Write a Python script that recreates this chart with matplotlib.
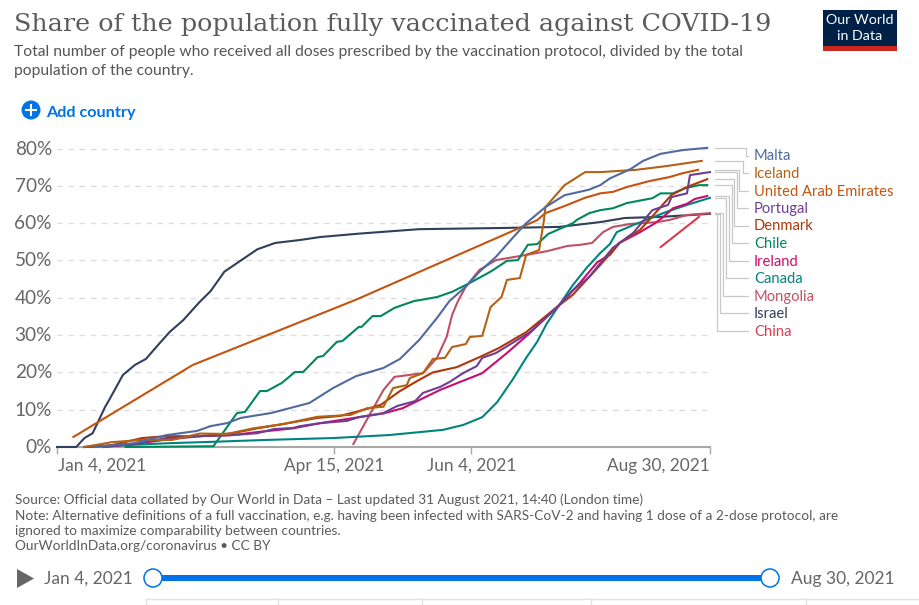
import matplotlib
matplotlib.use("Agg")
import matplotlib.pyplot as plt
from matplotlib.patches import Rectangle, Circle, Polygon

W, H = 920, 605
plt.rcParams['font.family'] = ['Lato', 'DejaVu Sans']

# ---- data: (days since Jan 4 2021, percent) ----
malta_d = [14, 28, 40, 51, 56, 62, 67, 78, 92, 100.6, 109, 119, 125, 132, 138.5, 143, 149, 154, 160, 166, 171, 178, 185, 194, 198, 201.5, 209, 213.6, 220, 228, 237]
malta_v = [0, 1, 3.2, 4.3, 5.6, 6.4, 7.8, 9.1, 11.8, 15.8, 19, 21.2, 23.6, 28.7, 34.6, 39.1, 43, 47, 51, 56, 60, 64.3, 67.5, 69, 70.2, 72, 74.5, 76.7, 78.6, 79.6, 80.2]
iceland_d = [10, 20, 31, 42, 52, 62, 71.5, 82, 95, 107, 113, 119, 122.5, 127.5, 128.6, 133.4, 137, 141.4, 144, 149, 150.5, 155, 158, 162, 164, 168.7, 171, 175.7, 177.5, 178, 185, 192.5, 198, 211, 222, 235]
iceland_v = [0, 1.3, 1.9, 1.9, 3.6, 3.5, 5, 6.1, 8.1, 8.6, 10.4, 10.8, 15.8, 16.6, 18.5, 19.8, 23.6, 23.9, 26.8, 27.6, 29.5, 29.8, 37.5, 40.2, 44.8, 45.3, 51.5, 52.8, 60.9, 64.3, 70.2, 73.7, 73.7, 74.3, 75.3, 76.7]
uae_d = [6, 49.5, 109, 175, 178, 185, 192.4, 198, 202.6, 207.7, 216, 223.4, 228, 233.6]
uae_v = [2.7, 22, 39.5, 60.8, 62.7, 64.6, 66.8, 68, 68.4, 69.7, 71.3, 72.4, 73.4, 74.3]
portugal_d = [17, 28, 40, 52, 64, 73, 79, 86, 88.6, 96, 105.7, 110, 119, 124, 130.5, 133.4, 139.6, 143, 148, 153, 155, 160, 166, 172.4, 183, 188, 194, 198, 202.6, 210, 217, 222.7, 224, 229.6, 230.7, 238]
portugal_v = [0, 0.8, 2.4, 2.9, 3.2, 3.7, 4.8, 5.1, 5.6, 6.4, 7, 8, 9.1, 11, 12.3, 14.5, 16.1, 17.4, 19.8, 21.7, 23.9, 25.2, 27.9, 30.8, 38, 42, 45.6, 49.3, 53.4, 57.4, 63.5, 64.9, 67, 68, 72.9, 73.7]
denmark_d = [10, 20, 31, 40, 52, 64, 73, 82, 95, 103, 113, 118, 125, 132, 137, 145.7, 154, 161, 171, 183, 188, 194, 198, 205, 212.5, 219, 224, 229.6, 237]
denmark_v = [0, 0.5, 2.4, 2.9, 2.9, 3.7, 5, 6.1, 7.8, 8.3, 10.2, 11.3, 15, 18, 20, 21.4, 24.1, 26.5, 30.8, 38, 40.8, 45.6, 48.8, 54.7, 58.2, 63.5, 67.6, 69.7, 71.8]
chile_d = [25, 57, 65.6, 68.5, 74, 76.5, 82, 86.7, 89.7, 95, 97, 102, 104, 110, 111, 115, 118, 123, 130, 138.5, 144, 150.5, 158, 164, 168, 171.6, 175, 179, 188, 189.5, 194, 198, 202.6, 207.7, 217, 220, 224.5, 229, 234, 237]
chile_v = [0, 0.2, 9.1, 9.4, 15, 15, 17.2, 20.1, 20.1, 24.1, 24.4, 28.2, 28.4, 32.2, 32.2, 35.1, 35.1, 37.3, 39.1, 40.2, 41.6, 44, 47, 49.9, 50.1, 54.2, 54.4, 57.1, 60, 60.9, 62.7, 63.5, 64, 65.4, 66.7, 68, 68, 69.4, 70.2, 70.2]
ireland_d = [17, 30, 40, 52, 64, 73, 86, 96, 103, 119, 126, 139.6, 155, 164, 172.4, 183, 190.6, 197, 201.5, 205, 212.5, 218, 221, 224.5, 229.6, 232.5, 237]
ireland_v = [0, 1, 2, 2.9, 3.2, 4, 5, 6.4, 7.2, 9, 10.4, 15.3, 19.8, 25.2, 30.6, 38, 44, 49.6, 51.5, 54.7, 57.6, 60, 61.7, 64, 65.2, 66.5, 67.3]
canada_d = [10, 40, 57, 76.5, 100.6, 121, 140.7, 148, 155, 160.4, 166, 171, 175, 178.6, 183, 188, 193, 198, 201.5, 204, 210, 222, 229.6, 238]
canada_v = [0, 1, 1.4, 1.9, 2.4, 3.2, 4.6, 5.9, 8, 12, 18, 23.9, 28.2, 33.2, 38, 43.4, 48, 52, 54.4, 57.6, 59.5, 63, 64.9, 66.8]
mongolia_d = [108, 119, 123, 133.4, 138.5, 142, 144, 146, 149, 154, 160, 168.7, 178.6, 186, 190.6, 195, 199, 202.6, 209, 218.7, 223.4, 229.6, 238]
mongolia_v = [0.8, 15.3, 18.8, 19.8, 23.9, 29.5, 35.4, 38.9, 43, 47.5, 50.1, 51.2, 52.5, 53.9, 54.2, 54.7, 57.6, 59, 59.8, 60.3, 60.9, 62.2, 62.7]
israel_d = [0, 7, 10, 13, 17.5, 19, 24, 28.4, 32.4, 37.5, 41, 46, 52, 56, 61, 67, 73, 79.5, 88.6, 96, 110, 132, 161, 183, 198, 207, 220, 238]
israel_v = [0, 0, 2.4, 3.7, 10.7, 12.6, 19.3, 22, 23.6, 27.9, 30.8, 34, 38.9, 41.8, 47, 50, 53, 54.7, 55.5, 56.3, 57.2, 58.4, 58.7, 59, 60.3, 61.4, 61.7, 62.5]
china_d = [220, 234]
china_v = [53.6, 61.7]

countries = ['Malta', 'Iceland', 'United Arab Emirates', 'Portugal', 'Denmark', 'Chile',
             'Ireland', 'Canada', 'Mongolia', 'Israel', 'China']
day_series = [malta_d, iceland_d, uae_d, portugal_d, denmark_d, chile_d, ireland_d, canada_d, mongolia_d, israel_d, china_d]
val_series = [malta_v, iceland_v, uae_v, portugal_v, denmark_v, chile_v, ireland_v, canada_v, mongolia_v, israel_v, china_v]
colors = ['#4F6A9E', '#B16214', '#C4530F', '#6D3E91', '#B13507', '#00875E',
          '#C70E70', '#00847E', '#C15065', '#2F3F5C', '#D73C50']
xtick_days = [0, 101, 151, 238]
xtick_labels = ['Jan 4, 2021', 'Apr 15, 2021', 'Jun 4, 2021', 'Aug 30, 2021']
ytick_vals = [0, 10, 20, 30, 40, 50, 60, 70, 80]

GREY = '#666666'
fig = plt.figure(figsize=(W / 100, H / 100), dpi=100)
fig.patch.set_facecolor('white')

# main axes placed by pixel box
L, R, B, T = 57, 710, 447, 130
ax = fig.add_axes([L / W, 1 - B / H, (R - L) / W, (B - T) / H])
ax.set_xlim(0, 238)
ax.set_ylim(0, (B - T) / 3.73)
for s in ax.spines.values():
    s.set_visible(False)
ax.patch.set_alpha(0)
for y in ytick_vals[1:]:
    ax.axhline(y, color='#dddddd', lw=1, dashes=(4, 4), zorder=1)
ax.spines['bottom'].set_visible(True)
ax.spines['bottom'].set_color('#a8a8a8')
ax.spines['bottom'].set_linewidth(1.5)
ax.set_xticks(xtick_days)
ax.set_xticklabels([])
ax.set_yticks(ytick_vals)
ax.set_yticklabels([])
ax.tick_params(axis='x', length=5, width=1, color='#a8a8a8')
ax.tick_params(axis='y', length=0)

for d, v, c in zip(day_series[::-1], val_series[::-1], colors[::-1]):
    ax.plot(d, v, color=c, lw=1.5, solid_joinstyle='round', clip_on=False, zorder=3)

# overlay in pixel coordinates for text and page furniture
ov = fig.add_axes([0, 0, 1, 1])
ov.set_xlim(0, W)
ov.set_ylim(H, 0)
ov.axis('off')
ov.patch.set_alpha(0)

def px(pt):
    return pt * 0.72

for y in ytick_vals:
    ov.text(52, B - y * 3.73 + 0.5, f'{y}%', ha='right', va='center', fontsize=px(19), color=GREY)
ov.text(58, 465.5, xtick_labels[0], ha='left', va='center', fontsize=px(17.3), color=GREY)
ov.text(334, 465.5, xtick_labels[1], ha='center', va='center', fontsize=px(17.3), color=GREY)
ov.text(472, 465.5, xtick_labels[2], ha='center', va='center', fontsize=px(17.3), color=GREY)
ov.text(710, 465.5, xtick_labels[3], ha='right', va='center', fontsize=px(17.3), color=GREY)

# direct labels with connectors
label_y = [155.5, 173, 190.5, 208, 225.5, 243, 260.5, 278, 295.5, 313, 330.5]
elbow_x = [746, 743, 739, 737, 734, 732, 729, 726, 723, 720, 717]
start_y = [148, 161, 170, 172, 179, 185, 196, 198, 213, 214, 213]
for name, c, ly, ex, sy in zip(countries, colors, label_y, elbow_x, start_y):
    ov.plot([715, ex, ex, 748], [sy, sy, ly, ly], color='#c8c8c8', lw=0.9, zorder=1)
    ov.text(754, ly + 1, name, ha='left', va='center', fontsize=px(14.8), color=c)

# header
ov.text(14, 24, 'Share of the population fully vaccinated against COVID-19', ha='left', va='center',
        fontsize=px(25.4), color='#5b5b5b', family='DejaVu Serif')
ov.text(14, 52, 'Total number of people who received all doses prescribed by the vaccination protocol, divided by the total',
        ha='left', va='center', fontsize=px(15.65), color='#555555')
ov.text(14, 71, 'population of the country.', ha='left', va='center', fontsize=px(15.65), color='#555555')

# logo
ov.add_patch(Rectangle((823, 10), 74, 41, color='#002147', lw=0))
ov.add_patch(Rectangle((823, 46), 74, 5, color='#CE261E', lw=0))
ov.text(860, 20.5, 'Our World', ha='center', va='center', fontsize=px(14.3), color='white')
ov.text(860, 36.5, 'in Data', ha='center', va='center', fontsize=px(14.3), color='white')

# add country
ov.add_patch(Circle((31, 110), 9.5, color='#0073E6', lw=0))
ov.plot([26, 36], [110, 110], color='white', lw=1.5)
ov.plot([31, 31], [105, 115], color='white', lw=1.5)
ov.text(46, 112.5, 'Add country', ha='left', va='center', fontsize=px(16.3), color='#0073E6', fontweight='bold')

# footer
foot = ['Source: Official data collated by Our World in Data \u2013 Last updated 31 August 2021, 14:40 (London time)',
        'Note: Alternative definitions of a full vaccination, e.g. having been infected with SARS-CoV-2 and having 1 dose of a 2-dose protocol, are',
        'ignored to maximize comparability between countries.',
        'OurWorldInData.org/coronavirus \u2022 CC BY']
for ty, t in zip([500, 516, 531, 546], foot):
    ov.text(15, ty, t, ha='left', va='center', fontsize=px(13.6), color='#5b5b5b')

# timeline
ov.add_patch(Polygon([(17, 569), (17, 588), (34, 578.5)], color='#666666', lw=0))
ov.text(133, 579, 'Jan 4, 2021', ha='right', va='center', fontsize=px(17.4), color=GREY)
ov.text(791, 579, 'Aug 30, 2021', ha='left', va='center', fontsize=px(17.4), color=GREY)
ov.add_patch(Rectangle((153, 575), 617, 6, color='#0073E6', lw=0, zorder=2))
for cx in (153, 770):
    ov.add_patch(Circle((cx, 578), 9, facecolor='white', edgecolor='#0073E6', lw=1.1, zorder=3))

# table stub at the bottom edge
ov.plot([146, 920], [598.5, 598.5], color='#e2e2e2', lw=1)
for vx in (146, 278, 422, 591, 806):
    ov.plot([vx, vx], [598.5, 605], color='#e2e2e2', lw=1)

fig.savefig('out.png', dpi=100)
